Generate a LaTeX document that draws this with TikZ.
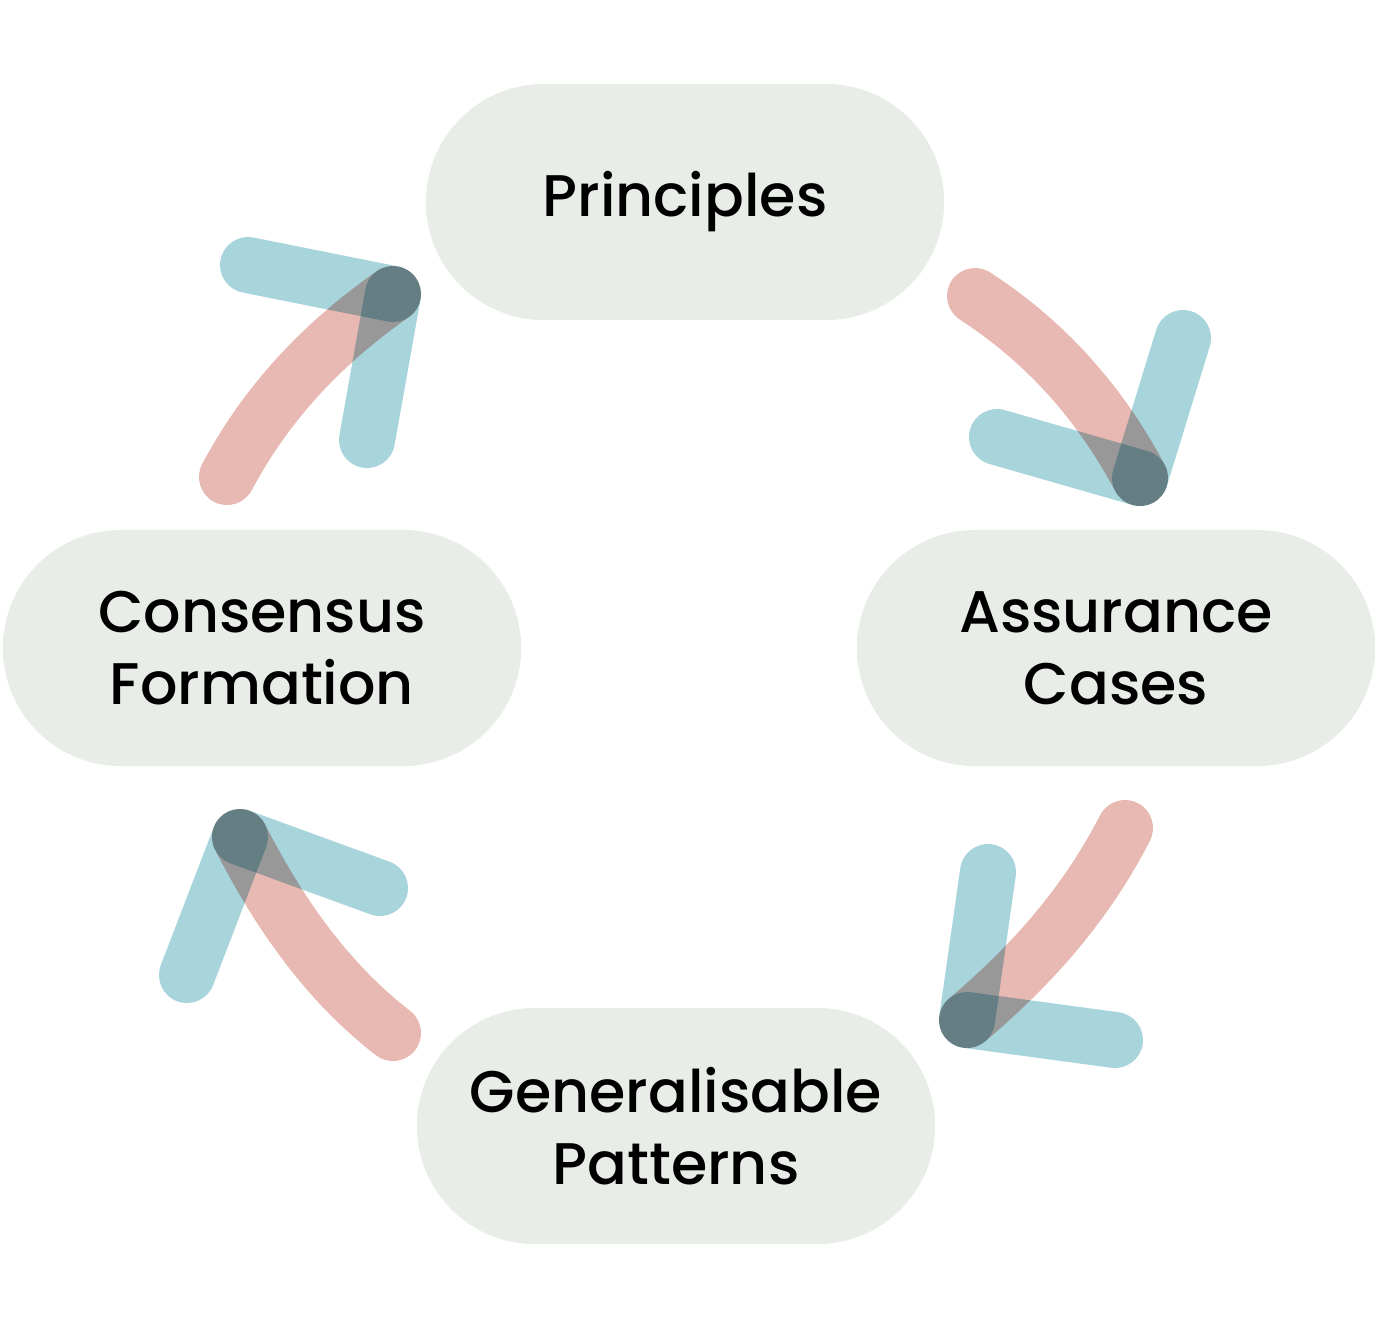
\documentclass[tikz,border=0pt]{standalone}
\usepackage{fontspec}
\setmainfont{Poppins}[UprightFont={* Medium}, LetterSpace=0]
\definecolor{nodefill}{RGB}{232,238,231}
\definecolor{redc}{RGB}{232,184,178}
\definecolor{bluec}{RGB}{168,212,220}
\begin{document}
\begin{tikzpicture}[x=0.01cm,y=-0.01cm,
  stage/.style={fill=nodefill, draw=none, minimum width=5.18cm, minimum height=2.36cm,
    rounded corners=1.18cm, align=center, inner sep=0pt,
    font=\fontsize{16.7}{20.5}\selectfont},
  redstroke/.style={draw=redc, line width=0.56cm, line cap=round},
  bluestroke/.style={draw=bluec, line width=0.56cm, line cap=round}]
\useasboundingbox (0,0) rectangle (1382,1332);

\node[stage] (prin) at (685,202) {Principles};
\node[stage] (assu) at (1116,648) {Assurance\\Cases};
\node[stage] (cons) at (262,648) {Consensus\\Formation};
\node[stage] (gene) at (676,1126) {Generalisable\\Patterns};

% arrow points
\coordinate (trS) at (975,296);
\coordinate (trT) at (1140,478);
\coordinate (trA) at (1183,338);
\coordinate (trB) at (997,437);

\coordinate (brS) at (1125,828);
\coordinate (brT) at (967,1020);
\coordinate (brA) at (988,872);
\coordinate (brB) at (1115,1040);

\coordinate (blS) at (393,1033);
\coordinate (blT) at (240,837);
\coordinate (blA) at (187,975);
\coordinate (blB) at (380,888);

\coordinate (tlS) at (227,477);
\coordinate (tlT) at (393,294);
\coordinate (tlA) at (367,440);
\coordinate (tlB) at (248,265);

\begin{scope}[blend group=multiply]
  % top right
  \draw[redstroke] (trS) .. controls (1046,342) and (1100,403) .. (trT);
  \draw[bluestroke] (trA) -- (trT);
  \draw[bluestroke] (trB) -- (trT);
  % bottom right
  \draw[redstroke] (brS) .. controls (1086,904) and (1032,965) .. (brT);
  \draw[bluestroke] (brA) -- (brT);
  \draw[bluestroke] (brB) -- (brT);
  % bottom left
  \draw[redstroke] (blS) .. controls (326,981) and (279,913) .. (blT);
  \draw[bluestroke] (blA) -- (blT);
  \draw[bluestroke] (blB) -- (blT);
  % top left
  \draw[redstroke] (tlS) .. controls (267,402) and (323,343) .. (tlT);
  \draw[bluestroke] (tlA) -- (tlT);
  \draw[bluestroke] (tlB) -- (tlT);
\end{scope}
\end{tikzpicture}
\end{document}
